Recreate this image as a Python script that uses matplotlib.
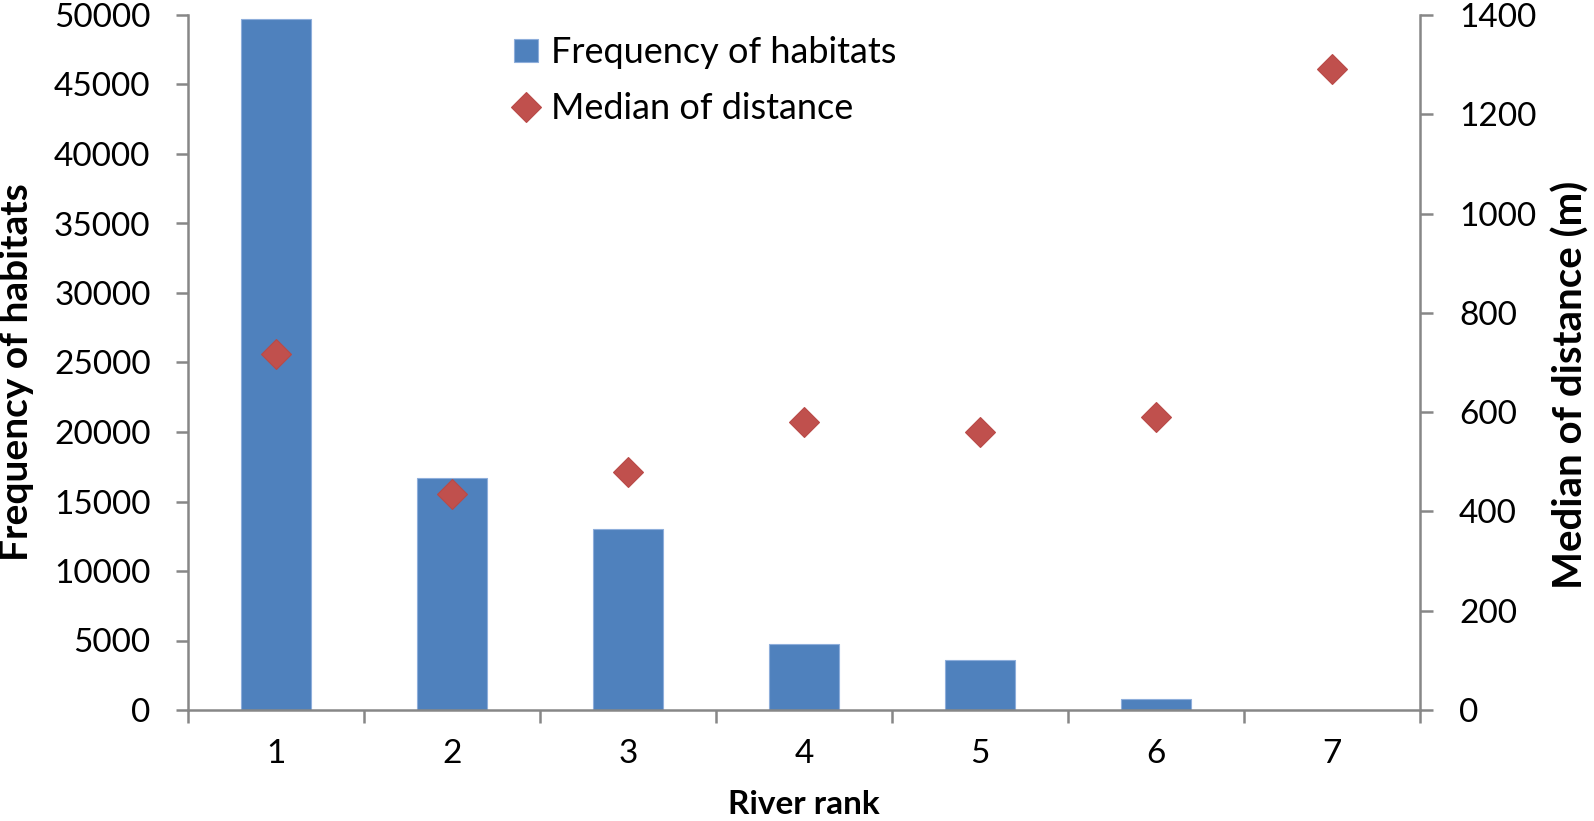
import numpy as np
import matplotlib
matplotlib.use("Agg")
import matplotlib.pyplot as plt

plt.rcParams['font.family'] = ['Lato', 'DejaVu Sans']

# data
river_rank = [1, 2, 3, 4, 5, 6, 7]
freq_habitats = [49700, 16700, 13000, 4720, 3600, 810, 0]
median_distance = [718, 436, 480, 580, 561, 591, 1292]

bar_color = '#4F81BD'
marker_color = '#C0504D'
axis_color = '#878787'

fig = plt.figure(figsize=(15.94, 8.21), dpi=100)
ax = fig.add_axes([188 / 1594, 1 - 710 / 821, (1420 - 188) / 1594, 695 / 821])
ax2 = ax.twinx()

bars = ax.bar(river_rank, freq_habitats, width=0.4, color=bar_color,
              edgecolor='#8EAEDB', linewidth=0.8, label='Frequency of habitats', zorder=2)
pts, = ax2.plot(river_rank, median_distance, linestyle='none', marker='D', markersize=15,
                color=marker_color, markeredgecolor='#B94A47', markeredgewidth=0.8,
                label='Median of distance', zorder=3)

ax.set_xlim(0.5, 7.5)
ax.set_ylim(0, 50000)
ax2.set_ylim(0, 1400)
ax.set_yticks(np.arange(0, 50001, 5000))
ax2.set_yticks(np.arange(0, 1401, 200))

# category boundaries get the ticks, labels sit in between
ax.set_xticks(np.arange(0.5, 7.6, 1))
ax.set_xticklabels([])
ax.set_xticks(river_rank, minor=True)
ax.set_xticklabels([str(r) for r in river_rank], minor=True)

for a in (ax, ax2):
    a.spines['top'].set_visible(False)
    for s in ('left', 'right', 'bottom'):
        a.spines[s].set_color(axis_color)
        a.spines[s].set_linewidth(1.8)
ax.spines['right'].set_visible(False)
ax2.spines['left'].set_visible(False)
ax2.spines['bottom'].set_visible(False)

ax.tick_params(axis='y', which='major', length=9, width=1.8, color=axis_color,
               labelsize=24, pad=18, direction='out')
ax.tick_params(axis='x', which='major', length=9, width=1.8, color=axis_color, direction='out')
ax.tick_params(axis='x', which='minor', length=0, labelsize=24, pad=21)
ax2.tick_params(axis='y', length=9, width=1.8, color=axis_color, labelsize=24, pad=19,
                direction='out')

ax.set_xlabel('River rank', fontsize=24, fontweight='bold', labelpad=15)
ax.set_ylabel('Frequency of habitats', fontsize=28, fontweight='bold')
ax2.set_ylabel('Median of distance (m)', fontsize=29, fontweight='bold', rotation=90)
ax.yaxis.set_label_coords((34 - 188) / 1232, (710 - 372) / 695)
ax2.yaxis.set_label_coords((1552 - 188) / 1232, (710 - 385) / 695)

fig.legend(handles=[bars, pts], loc='upper left', bbox_to_anchor=(500 / 1594, 1 - 22 / 821),
           frameon=False, fontsize=26, handlelength=0.65, handleheight=0.6,
           handletextpad=0.35, labelspacing=0.62, borderaxespad=0)

fig.savefig('out.png', dpi=100)
